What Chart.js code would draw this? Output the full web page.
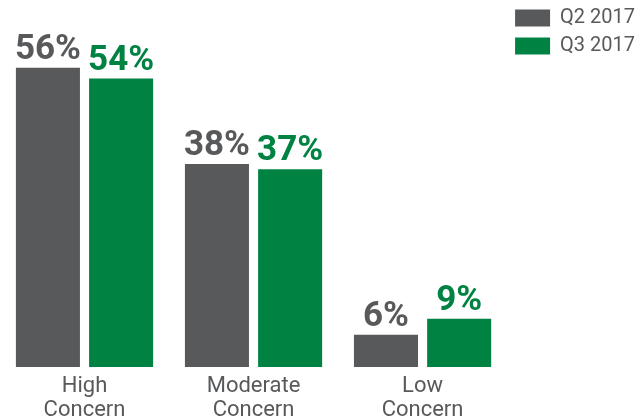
<!DOCTYPE html>
<html>
<head>
<meta charset="utf-8">
<script src="https://cdn.jsdelivr.net/npm/chart.js@4/dist/chart.umd.min.js"></script>
<style>
html,body{margin:0;padding:0;background:#fff;}
#wrap{width:642px;height:419px;position:relative;}
</style>
</head>
<body>
<div id="wrap"><canvas id="c"></canvas></div>
<script>
const categories = [["High","Concern"],["Moderate","Concern"],["Low","Concern"]];
const seriesNames = ["Q2 2017","Q3 2017"];
const q2Values = [56, 38, 6];
const q3Values = [54, 37, 9];
const seriesColors = ["#58595b", "#008342"];

const valueLabels = {
  id: 'valueLabels',
  afterDatasetsDraw(chart) {
    const ctx = chart.ctx;
    ctx.save();
    ctx.font = 'bold 35px Roboto';
    ctx.textAlign = 'center';
    ctx.textBaseline = 'alphabetic';
    chart.data.datasets.forEach((ds, i) => {
      const meta = chart.getDatasetMeta(i);
      ctx.fillStyle = ds.backgroundColor;
      meta.data.forEach((bar, j) => {
        ctx.fillText(ds.data[j] + '%', bar.x, bar.y - 9);
      });
    });
    ctx.restore();
  }
};

new Chart(document.getElementById('c'), {
  type: 'bar',
  data: {
    labels: categories,
    datasets: [
      {label: seriesNames[0], data: q2Values, backgroundColor: seriesColors[0]},
      {label: seriesNames[1], data: q3Values, backgroundColor: seriesColors[1]}
    ]
  },
  options: {
    responsive: true,
    maintainAspectRatio: false,
    animation: false,
    categoryPercentage: 0.866,
    barPercentage: 0.875,
    layout: {padding: {top: 0, left: 0, right: -3, bottom: -11}},
    plugins: {
      legend: {
        position: 'right',
        align: 'start',
        labels: {
          boxWidth: 35,
          boxHeight: 17,
          padding: 8,
          color: '#58595b',
          font: {family: 'Roboto', size: 20}
        }
      },
      tooltip: {enabled: false}
    },
    scales: {
      x: {
        grid: {display: false, drawTicks: false},
        border: {display: false},
        ticks: {color: '#58595b', font: {family: 'Roboto', size: 22, lineHeight: 1.07}, padding: 8}
      },
      y: {
        display: false,
        min: 0,
        max: 68.7
      }
    }
  },
  plugins: [valueLabels]
});
</script>
</body>
</html>
